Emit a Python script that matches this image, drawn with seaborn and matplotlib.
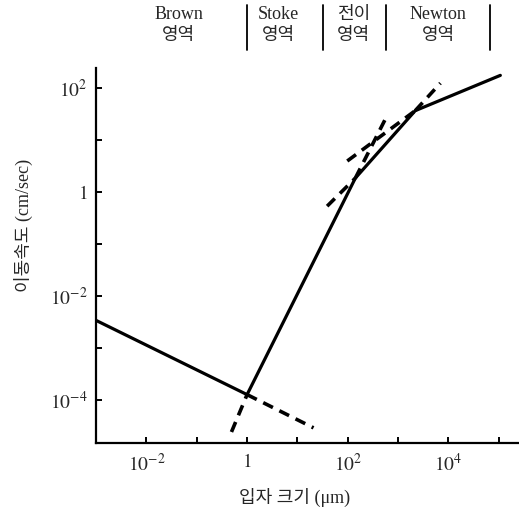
import matplotlib
matplotlib.use('Agg')
import matplotlib.pyplot as plt
import matplotlib.transforms as mtransforms
import seaborn as sns
import numpy as np

# 데이터 (로그 값, 그림에서 읽음)
solid_logx = [-3.0, 0.0, 2.15, 3.34, 5.03]
solid_logy = [-2.47, -3.90, 0.27, 1.57, 2.25]

# 점선 연장선 (각 구간의 시작/끝)
brown_ext_logx = [0.0, 1.32]
brown_ext_logy = [-3.90, -4.54]
stokes_low_logx = [-0.31, 0.0]
stokes_low_logy = [-4.62, -3.90]
stokes_high_logx = [2.15, 2.80]
stokes_high_logy = [0.27, 1.51]
trans_low_logx = [1.59, 2.15]
trans_low_logy = [-0.27, 0.27]
trans_high_logx = [3.34, 3.84]
trans_high_logy = [1.57, 2.10]
newton_low_logx = [1.99, 3.34]
newton_low_logy = [0.60, 1.57]

# 영역 구분
region_labels = ['Brown\n영역', 'Stoke\n영역', '전이\n영역', 'Newton\n영역']
region_centers_log = [-1.36, 0.62, 2.12, 3.80]
region_bars_log = [0.0, 1.5, 2.75, 4.83]

xtick_log = list(range(-2, 6))
xtick_labels = [r'$10^{-2}$', '', r'$1$', '', r'$10^{2}$', '', r'$10^{4}$', '']
ytick_log = list(range(-4, 3))
ytick_labels = [r'$10^{-4}$', '', r'$10^{-2}$', '', r'$1$', '', r'$10^{2}$']

sns.set_style('ticks')
plt.rcParams['font.family'] = ['Liberation Serif', 'Noto Sans CJK KR']
plt.rcParams['mathtext.fontset'] = 'stix'
plt.rcParams['axes.unicode_minus'] = False

fig = plt.figure(figsize=(5.19, 5.12), dpi=100)
ax = fig.add_axes([0.185, 0.135, 0.813, 0.732])
ax.set_xscale('log')
ax.set_yscale('log')

p = lambda v: np.power(10.0, v)

sns.lineplot(x=p(solid_logx), y=p(solid_logy), color='black', linewidth=2.3,
             sort=False, ax=ax)

dash = (0, (3.0, 2.0))
for lx, ly in [(brown_ext_logx, brown_ext_logy),
               (stokes_low_logx, stokes_low_logy),
               (stokes_high_logx, stokes_high_logy),
               (trans_low_logx, trans_low_logy),
               (trans_high_logx, trans_high_logy),
               (newton_low_logx, newton_low_logy)]:
    sns.lineplot(x=p(lx), y=p(ly), color='black', linewidth=2.6,
                 linestyle=dash, sort=False, ax=ax)

ax.set_xlim(p(-3.0), p(5.38))
ax.set_ylim(p(-4.83), p(2.39))

ax.xaxis.set_minor_locator(matplotlib.ticker.NullLocator())
ax.yaxis.set_minor_locator(matplotlib.ticker.NullLocator())
ax.set_xticks([p(v) for v in xtick_log])
ax.set_xticklabels(xtick_labels, fontsize=14)
ax.set_yticks([p(v) for v in ytick_log])
ax.set_yticklabels(ytick_labels, fontsize=14)
ax.tick_params(axis='both', direction='in', length=4, width=1.4, color='black')
ax.tick_params(axis='x', pad=7)
ax.tick_params(axis='y', pad=6)

for s in ['top', 'right']:
    ax.spines[s].set_visible(False)
for s in ['left', 'bottom']:
    ax.spines[s].set_linewidth(1.6)
    ax.spines[s].set_color('black')

ax.set_xlabel('입자 크기 (μm)', fontsize=13)
ax.set_ylabel('이동속도 (cm/sec)', fontsize=13)
ax.xaxis.set_label_coords(0.47, -0.12)
ax.yaxis.set_label_coords(-0.15, 0.58)

# 상단 영역 표시
trans = mtransforms.blended_transform_factory(ax.transData, ax.transAxes)
for lab, c in zip(region_labels, region_centers_log):
    ax.text(p(c), 1.115, lab, transform=trans, ha='center', va='center',
            multialignment='center', fontsize=13, linespacing=1.3,
            clip_on=False)
for b in region_bars_log:
    ax.plot([p(b), p(b)], [1.048, 1.168], transform=trans, color='black',
            linewidth=1.3, clip_on=False)

fig.savefig('out.png', dpi=100)
